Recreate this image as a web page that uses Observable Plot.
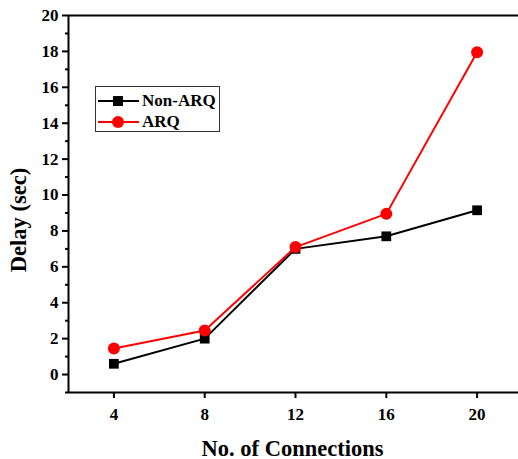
<!DOCTYPE html>
<html><head><meta charset="utf-8">
<script src="https://cdn.jsdelivr.net/npm/d3@7"></script>
<script src="https://cdn.jsdelivr.net/npm/@observablehq/plot@0.6"></script>
<style>
body{margin:0;background:#fff;}
#wrap{position:relative;width:518px;height:459px;}
#wrap svg text{font-family:"Liberation Serif",serif;font-weight:bold;}
#legend{position:absolute;left:95px;top:86px;width:125px;height:46px;border:1px solid #333;box-sizing:border-box;background:#fff;font-family:"Liberation Serif",serif;font-weight:bold;font-size:17px;}
#legend .row{position:absolute;left:1px;height:20px;display:flex;align-items:center;}
#legend svg{display:block}
</style></head>
<body><div id="wrap"></div>
<script>
const connections = [4, 8, 12, 16, 20];
const nonArq = [0.6, 2.0, 7.0, 7.7, 9.15];
const arq = [1.45, 2.45, 7.1, 8.95, 17.95];
const xTicks = [4, 8, 12, 16, 20];
const yTicks = [0, 2, 4, 6, 8, 10, 12, 14, 16, 18, 20];
const yMinor = [-1, 1, 3, 5, 7, 9, 11, 13, 15, 17, 19];
const seriesNames = ["Non-ARQ", "ARQ"];
const seriesColors = ["#000000", "#ff0000"];

const rowsNon = connections.map((c, i) => ({x: c, y: nonArq[i]}));
const rowsArq = connections.map((c, i) => ({x: c, y: arq[i]}));

const font = "Liberation Serif";
const chart = Plot.plot({
  width: 518, height: 459,
  marginLeft: 68, marginTop: 15, marginBottom: 67, marginRight: 0,
  x: {domain: [2, 22], range: [68, 522]},
  y: {domain: [-1, 20]},
  style: {fontFamily: font, fontWeight: "bold", color: "#000", background: "#fff"},
  marks: [
    Plot.axisX({ticks: xTicks, tickSize: 6, tickPadding: 9, fontSize: 17, fontFamily: font, strokeWidth: 2, label: null}),
    Plot.axisY({ticks: yTicks, tickSize: 6, tickPadding: 4, fontSize: 17, fontFamily: font, strokeWidth: 2, label: null}),
    Plot.axisY({ticks: yMinor, tickSize: 3, text: null, strokeWidth: 2, label: null}),
    Plot.ruleX([2], {strokeWidth: 2}),
    Plot.ruleY([-1], {strokeWidth: 2}),
    Plot.ruleY([20], {strokeWidth: 2}),
    Plot.line(rowsNon, {x: "x", y: "y", stroke: seriesColors[0], strokeWidth: 2}),
    Plot.dot(rowsNon, {x: "x", y: "y", symbol: "square", r: 5.5, fill: seriesColors[0]}),
    Plot.line(rowsArq, {x: "x", y: "y", stroke: seriesColors[1], strokeWidth: 2}),
    Plot.dot(rowsArq, {x: "x", y: "y", symbol: "circle", r: 6, fill: seriesColors[1]}),
    Plot.text(["No. of Connections"], {frameAnchor: "bottom", dx: -1, dy: 63, fontSize: 22.5, fontFamily: font, fontWeight: "bold", fill: "#000"}),
    Plot.text(["Delay (sec)"], {frameAnchor: "left", textAnchor: "middle", dx: -50, dy: 16, rotate: -90, fontSize: 22.5, fontFamily: font, fontWeight: "bold", fill: "#000"})
  ]
});
const wrap = document.getElementById("wrap");
wrap.appendChild(chart);

const legend = document.createElement("div");
legend.id = "legend";
const symbols = ["square", "circle"];
seriesNames.forEach((name, i) => {
  const row = document.createElement("div");
  row.className = "row";
  row.style.top = (4 + i * 21) + "px";
  const c = seriesColors[i];
  const mk = symbols[i] === "square"
    ? `<rect x="16" y="5" width="10" height="10" fill="${c}"/>`
    : `<circle cx="21" cy="10" r="6" fill="${c}"/>`;
  row.innerHTML = `<svg width="43" height="20"><line x1="1" x2="42" y1="10" y2="10" stroke="${c}" stroke-width="2"/>${mk}</svg><span style="margin-left:2px">${name}</span>`;
  legend.appendChild(row);
});
wrap.appendChild(legend);
</script></body></html>
